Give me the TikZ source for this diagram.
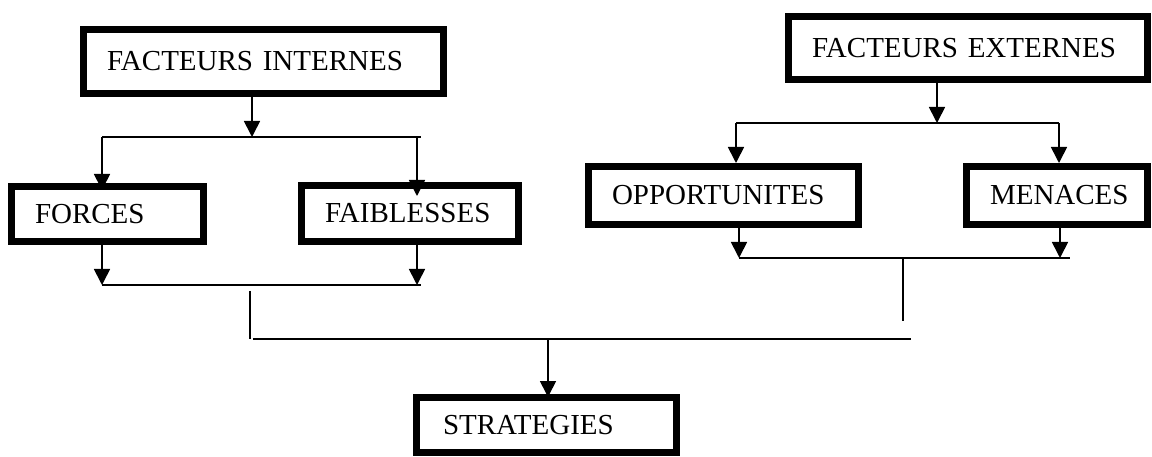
\documentclass[tikz,border=0pt]{standalone}
\usepackage{fontspec}
\setmainfont{Liberation Serif}
\usetikzlibrary{arrows.meta}
\begin{document}
\begin{tikzpicture}[x=1pt,y=-1pt,
  boxnode/.style={draw=black, line width=7pt, align=left, inner xsep=23.5pt, inner ysep=0pt,
    font=\fontsize{29}{30}\selectfont, anchor=center},
  conn/.style={line width=1.7pt, draw=black},
  arr/.style={conn, -{Triangle[width=16pt,length=16pt]}}]
\useasboundingbox (0,0) rectangle (1152,457);
\fill[white] (0,0) rectangle (1152,457);

% boxes
\node[boxnode, text width=313pt, minimum height=64pt] (fi) at (263.5,61.5) {FACTEURS INTERNES};
\node[boxnode, text width=312pt, minimum height=63pt] (fe) at (968,48) {FACTEURS EXTERNES};
\node[boxnode, text width=145pt, minimum height=55pt] (forces) at (107.5,214) {FORCES};
\node[boxnode, text width=170pt, minimum height=56pt] (faib) at (410,213.5) {FAIBLESSES};
\node[boxnode, text width=223pt, minimum height=58pt] (opp) at (723.5,195.5) {OPPORTUNITES};
\node[boxnode, text width=134pt, minimum height=58pt] (men) at (1057,195.5) {MENACES};
\node[boxnode, inner xsep=26.5pt, text width=207pt, minimum height=55pt] (strat) at (546.5,425) {STRATEGIES};

% left upper tree
\coordinate (j1) at (252,137);
\coordinate (l1a) at (102,137);
\coordinate (l1b) at (421,137);
\coordinate (l1c) at (417,137);
\draw[arr] (fi.south -| j1) -- (j1);
\draw[conn] (l1a) -- (l1b);
\draw[arr, shorten >=-7pt] (l1a) -- (l1a |- forces.north);
\draw[arr, shorten >=-14pt] (l1c) -- (l1c |- faib.north);

% left lower
\coordinate (l2a) at (102,285);
\coordinate (l2b) at (421,285);
\coordinate (l2c) at (417,285);
\draw[arr] (forces.south -| l2a) -- (l2a);
\draw[arr] (faib.south -| l2c) -- (l2c);
\draw[conn] (l2a) -- (l2b);

% right upper tree
\coordinate (r1) at (937,123);
\coordinate (r1a) at (736,123);
\coordinate (r1b) at (1059,123);
\draw[arr] (fe.south -| r1) -- (r1);
\draw[conn] (r1a) -- (r1b);
\draw[arr] (r1a) -- (r1a |- opp.north);
\draw[arr] (r1b) -- (r1b |- men.north);

% right lower
\coordinate (r2a) at (739,258);
\coordinate (r2b) at (1070,258);
\coordinate (r2c) at (1060,258);
\draw[arr] (opp.south -| r2a) -- (r2a);
\draw[arr] (men.south -| r2c) -- (r2c);
\draw[conn] (r2a) -- (r2b);

% joins to strategies
\coordinate (v1a) at (250,291);
\coordinate (v1b) at (250,339);
\coordinate (v2a) at (903,258);
\coordinate (v2b) at (903,321);
\coordinate (h3a) at (253,339);
\coordinate (h3b) at (911,339);
\coordinate (h3c) at (548,339);
\draw[conn] (v1a) -- (v1b);
\draw[conn] (v2a) -- (v2b);
\draw[conn] (h3a) -- (h3b);
\draw[arr, shorten >=-3pt] (h3c) -- (h3c |- strat.north);
\end{tikzpicture}
\end{document}
